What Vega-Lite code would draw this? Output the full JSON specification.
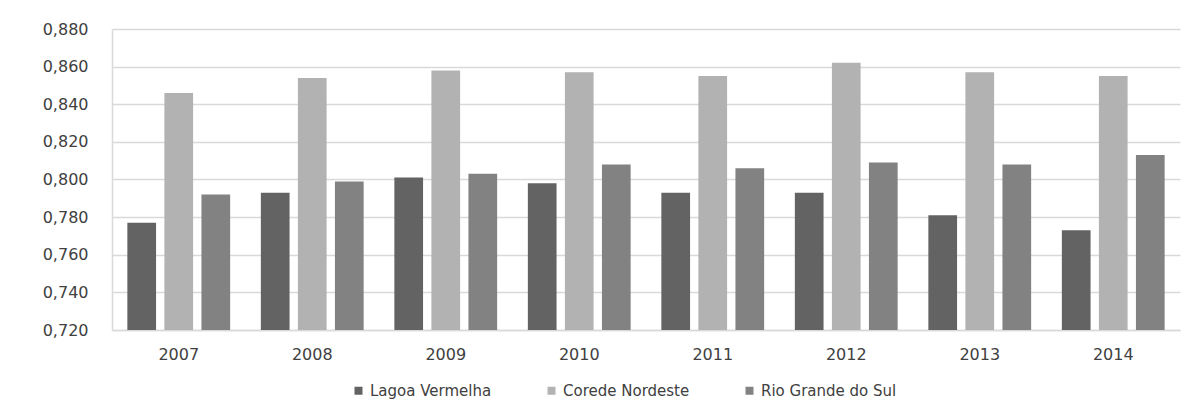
{
  "$schema": "https://vega.github.io/schema/vega-lite/v6.json",
  "width": 1068,
  "height": 301,
  "autosize": {"type": "none"},
  "padding": {"left": 112, "top": 29, "right": 20, "bottom": 86},
  "background": "white",
  "data": {
    "values": [
      {"ano": "2007", "regiao": "Lagoa Vermelha", "valor": 0.777},
      {"ano": "2007", "regiao": "Corede Nordeste", "valor": 0.846},
      {"ano": "2007", "regiao": "Rio Grande do Sul", "valor": 0.792},
      {"ano": "2008", "regiao": "Lagoa Vermelha", "valor": 0.793},
      {"ano": "2008", "regiao": "Corede Nordeste", "valor": 0.854},
      {"ano": "2008", "regiao": "Rio Grande do Sul", "valor": 0.799},
      {"ano": "2009", "regiao": "Lagoa Vermelha", "valor": 0.801},
      {"ano": "2009", "regiao": "Corede Nordeste", "valor": 0.858},
      {"ano": "2009", "regiao": "Rio Grande do Sul", "valor": 0.803},
      {"ano": "2010", "regiao": "Lagoa Vermelha", "valor": 0.798},
      {"ano": "2010", "regiao": "Corede Nordeste", "valor": 0.857},
      {"ano": "2010", "regiao": "Rio Grande do Sul", "valor": 0.808},
      {"ano": "2011", "regiao": "Lagoa Vermelha", "valor": 0.793},
      {"ano": "2011", "regiao": "Corede Nordeste", "valor": 0.855},
      {"ano": "2011", "regiao": "Rio Grande do Sul", "valor": 0.806},
      {"ano": "2012", "regiao": "Lagoa Vermelha", "valor": 0.793},
      {"ano": "2012", "regiao": "Corede Nordeste", "valor": 0.862},
      {"ano": "2012", "regiao": "Rio Grande do Sul", "valor": 0.809},
      {"ano": "2013", "regiao": "Lagoa Vermelha", "valor": 0.781},
      {"ano": "2013", "regiao": "Corede Nordeste", "valor": 0.857},
      {"ano": "2013", "regiao": "Rio Grande do Sul", "valor": 0.808},
      {"ano": "2014", "regiao": "Lagoa Vermelha", "valor": 0.773},
      {"ano": "2014", "regiao": "Corede Nordeste", "valor": 0.855},
      {"ano": "2014", "regiao": "Rio Grande do Sul", "valor": 0.813}
    ]
  },
  "mark": {"type": "bar", "clip": true},
  "encoding": {
    "x": {
      "field": "ano",
      "type": "nominal",
      "scale": {"paddingInner": 0.23, "paddingOuter": 0.115},
      "axis": {
        "title": null,
        "labelAngle": 0,
        "ticks": false,
        "labelPadding": 16,
        "domainColor": "#d9d9d9",
        "domainWidth": 1.5
      }
    },
    "xOffset": {
      "field": "regiao",
      "type": "nominal",
      "sort": ["Lagoa Vermelha", "Corede Nordeste", "Rio Grande do Sul"],
      "scale": {"paddingInner": 0.225, "paddingOuter": 0}
    },
    "y": {
      "field": "valor",
      "type": "quantitative",
      "scale": {"domain": [0.72, 0.88], "zero": false, "nice": false},
      "axis": {
        "title": null,
        "values": [0.72, 0.74, 0.76, 0.78, 0.8, 0.82, 0.84, 0.86, 0.88],
        "format": ".3f",
        "labelExpr": "replace(datum.label, '.', ',')",
        "ticks": false,
        "labelPadding": 24,
        "domainColor": "#d9d9d9",
        "domainWidth": 1.5,
        "gridColor": "#d9d9d9",
        "gridWidth": 1.5
      }
    },
    "color": {
      "field": "regiao",
      "type": "nominal",
      "sort": ["Lagoa Vermelha", "Corede Nordeste", "Rio Grande do Sul"],
      "scale": {
        "domain": ["Lagoa Vermelha", "Corede Nordeste", "Rio Grande do Sul"],
        "range": ["#636363", "#b2b2b2", "#828282"]
      },
      "legend": {
        "title": null,
        "orient": "none",
        "direction": "horizontal",
        "legendX": 239,
        "legendY": 354,
        "symbolType": "square",
        "symbolSize": 64,
        "symbolStrokeWidth": 0,
        "labelOffset": 4,
        "columnPadding": 52,
        "labelFontSize": 15,
        "labelFont": "DejaVu Sans",
        "labelColor": "#404040"
      }
    }
  },
  "config": {
    "view": {"stroke": null},
    "axis": {
      "labelFont": "DejaVu Sans",
      "labelFontSize": 16,
      "labelColor": "#404040"
    }
  }
}
